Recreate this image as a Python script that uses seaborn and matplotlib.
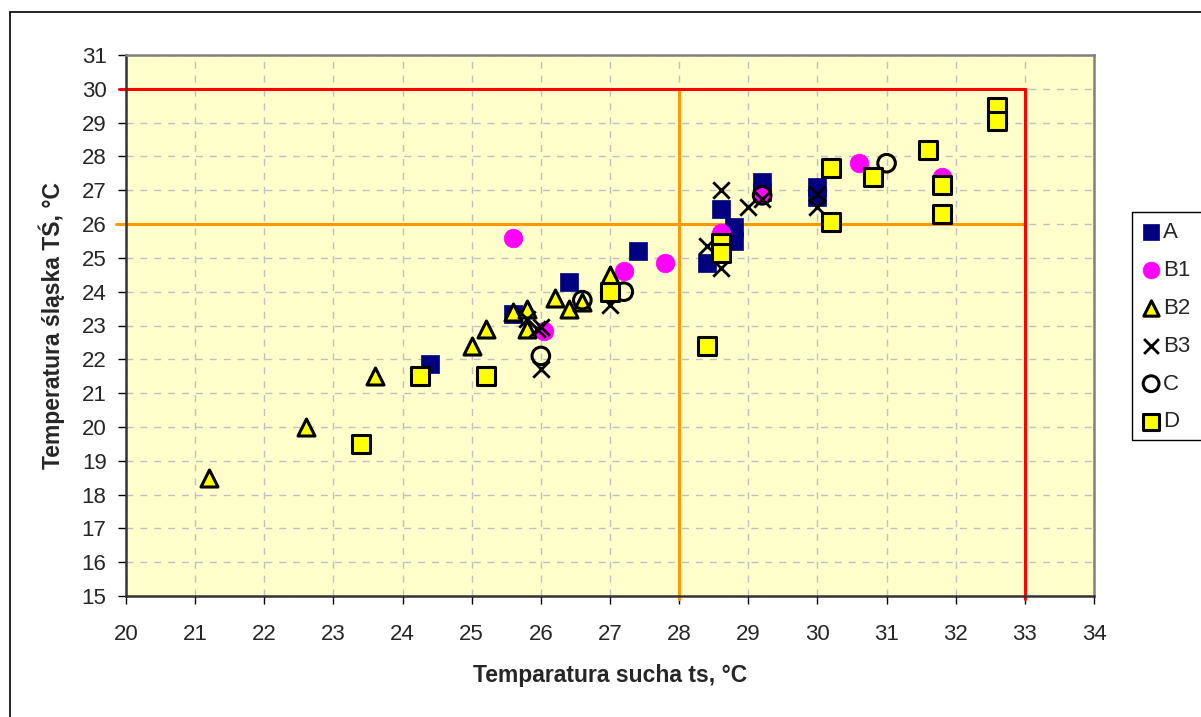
import matplotlib
matplotlib.use("Agg")
import matplotlib.pyplot as plt
from matplotlib.patches import Rectangle
import seaborn as sns

# ---------------- data ----------------
a_x = [24.4, 25.6, 26.4, 27.4, 28.4, 28.6, 28.8, 28.8, 29.2, 29.2, 30.0, 30.0]
a_y = [21.85, 23.35, 24.3, 25.2, 24.85, 26.45, 25.9, 25.5, 27.25, 26.95, 27.1, 26.8]

b1_x = [25.6, 26.05, 27.2, 27.8, 28.6, 29.2, 30.6, 31.8]
b1_y = [25.6, 22.85, 24.6, 24.85, 25.75, 26.85, 27.8, 27.4]

b2_x = [21.2, 22.6, 23.6, 25.0, 25.2, 25.6, 25.8, 25.8, 26.2, 26.4, 26.6, 27.0]
b2_y = [18.5, 20.0, 21.5, 22.4, 22.9, 23.4, 23.5, 22.9, 23.8, 23.5, 23.7, 24.5]

b3_x = [25.8, 26.0, 25.95, 26.0, 27.0, 28.4, 28.6, 28.6, 29.0, 29.2, 30.0, 30.0]
b3_y = [23.2, 22.95, 22.9, 21.7, 23.6, 25.35, 24.7, 27.0, 26.5, 26.75, 26.9, 26.5]

c_x = [26.0, 26.6, 27.2, 29.2, 31.0]
c_y = [22.1, 23.75, 24.0, 26.85, 27.8]

d_x = [23.4, 24.25, 25.2, 27.0, 28.4, 28.6, 28.6, 30.2, 30.2, 30.8, 31.6, 31.8, 31.8, 32.6, 32.6]
d_y = [19.5, 21.5, 21.5, 24.0, 22.4, 25.45, 25.15, 27.65, 26.05, 27.4, 28.2, 27.15, 26.3, 29.45, 29.05]

orange_x_limit = 28
orange_y_limit = 26
red_x_limit = 33
red_y_limit = 30

x_ticks = list(range(20, 35))
y_ticks = list(range(15, 32))

x_label = "Temparatura sucha ts, °C"
y_label = "Temperatura śląska TŚ, °C"

# ---------------- style ----------------
sns.set_style("ticks")
plt.rcParams["font.family"] = ["Liberation Sans", "DejaVu Sans"]

fig = plt.figure(figsize=(12.01, 7.17), dpi=100)
ax = fig.add_axes([126 / 1201, 1 - 596 / 717, (1094 - 126) / 1201, (596 - 55) / 717])
ax.set_facecolor("#FFFFCC")

ax.set_xlim(20, 34)
ax.set_ylim(15, 31)
ax.set_xticks(x_ticks)
ax.set_yticks(y_ticks)
ax.grid(True, color="#C0C0C0", linestyle=(0, (5, 5)), linewidth=1.0)
ax.set_axisbelow(True)

# reference lines
ax.plot([19.85, red_x_limit], [orange_y_limit, orange_y_limit], color="#FF9900", lw=2.2, clip_on=False, zorder=2)
ax.plot([orange_x_limit, orange_x_limit], [14.9, red_y_limit], color="#FF9900", lw=2.2, clip_on=False, zorder=2)
ax.plot([19.9, red_x_limit], [red_y_limit, red_y_limit], color="#FF0000", lw=2.2, clip_on=False, zorder=2)
ax.plot([red_x_limit, red_x_limit], [14.9, red_y_limit], color="#FF0000", lw=2.2, clip_on=False, zorder=2)

# series
sns.scatterplot(x=a_x, y=a_y, marker="s", color="#000080", edgecolor="#000080", s=170, linewidth=0.5, label="A", ax=ax, zorder=3)
sns.scatterplot(x=b1_x, y=b1_y, marker="o", color="#FF00FF", edgecolor="#FF00FF", s=180, linewidth=0.5, label="B1", ax=ax, zorder=3)
sns.scatterplot(x=b2_x, y=b2_y, marker="^", color="#FFFF00", edgecolor="black", s=150, linewidth=2.2, label="B2", ax=ax, zorder=3)
sns.scatterplot(x=b3_x, y=b3_y, marker="x", color="black", s=140, linewidth=2.0, label="B3", ax=ax, zorder=3)
sns.scatterplot(x=c_x, y=c_y, marker="o", facecolor="none", edgecolor="black", s=160, linewidth=2.2, label="C", ax=ax, zorder=3)
sns.scatterplot(x=d_x, y=d_y, marker="s", color="#FFFF00", edgecolor="black", s=160, linewidth=2.2, label="D", ax=ax, zorder=3)

# spines and ticks
for side in ["left", "bottom"]:
    ax.spines[side].set_color("#333333")
    ax.spines[side].set_linewidth(1.8)
for side in ["top", "right"]:
    ax.spines[side].set_visible(True)
    ax.spines[side].set_color("#808080")
    ax.spines[side].set_linewidth(1.8)

ax.tick_params(axis="both", direction="out", length=6, width=1, color="black", labelsize=16)
ax.tick_params(axis="y", pad=8)
ax.tick_params(axis="x", pad=14)

ax.set_xlabel(x_label, fontsize=16.5, fontweight="bold", labelpad=14)
ax.set_ylabel(y_label, fontsize=16.5, fontweight="bold", labelpad=12)

# legend
leg = ax.legend(loc="upper left", bbox_to_anchor=(1140 / 1201, 1 - 222 / 717),
                bbox_transform=fig.transFigure, frameon=False, fontsize=16,
                handletextpad=0.05, handlelength=1.0, labelspacing=0.76,
                borderaxespad=0, borderpad=0, markerscale=0.9)
leg.set_zorder(10)
fig.patches.append(Rectangle((1132 / 1201, 1 - 440 / 717), 0.2, (440 - 212) / 717,
                             transform=fig.transFigure, fill=True, facecolor="white",
                             edgecolor="black", lw=1.0, zorder=-1))

# outer chart border
fig.patches.append(Rectangle((10 / 1201, -0.2), 1.2, 1.2 - 12 / 717,
                             transform=fig.transFigure, fill=False,
                             edgecolor="black", lw=1.2, zorder=-1))

fig.savefig("out.png", dpi=100)
